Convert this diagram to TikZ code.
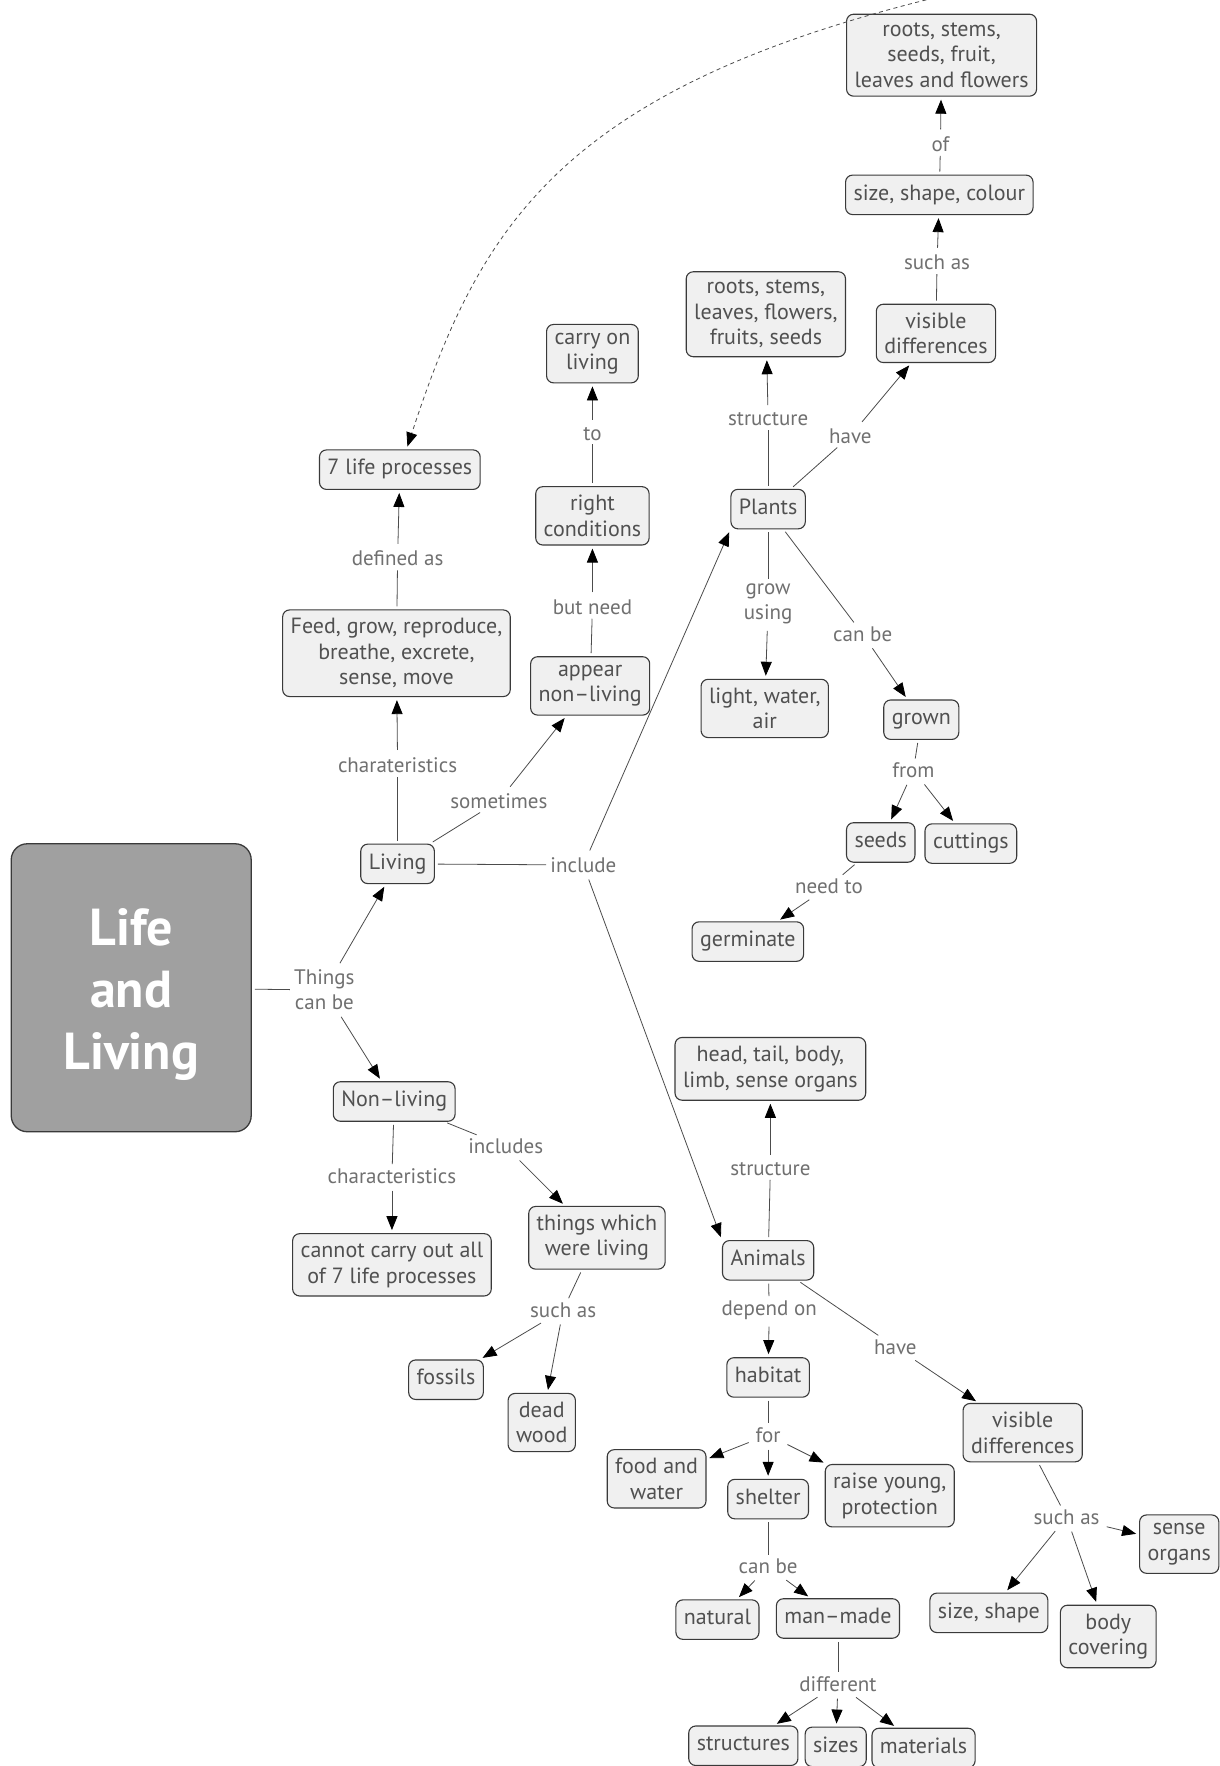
\documentclass[tikz,border=0pt]{standalone}
\usepackage{fontspec}
\setmainfont{PT Sans}
\usetikzlibrary{arrows.meta}
\definecolor{boxfill}{HTML}{F0F0F0}
\definecolor{boxline}{HTML}{3A3A3A}
\definecolor{txt}{HTML}{505050}
\definecolor{lbl}{HTML}{707070}
\definecolor{bigfill}{HTML}{A0A0A0}
\begin{document}
\begin{tikzpicture}[x=1.1265pt,y=-1.1265pt,
  concept/.style={draw=boxline, fill=boxfill, rounded corners=7pt, line width=1.1pt, text=txt,
    align=center, font=\fontsize{22}{25.5}\selectfont, inner xsep=8pt, inner ysep=8.5pt},
  one/.style={text height=16.5pt, text depth=6pt},
  bigbox/.style={draw=boxline, fill=bigfill, rounded corners=16pt, line width=1.3pt,
    minimum width=240pt, minimum height=288pt},
  bigtext/.style={text=white, align=center, font=\fontsize{52}{62}\selectfont\bfseries, inner sep=0pt},
  lab/.style={text=lbl, align=center, font=\fontsize{21}{25}\selectfont, inner sep=4pt},
  con/.style={draw=black!70, line width=0.8pt, shorten <=3pt},
  arr/.style={con, -{Triangle[length=14pt,width=11pt,fill=black,color=black]}, shorten >=3pt}]
\path[use as bounding box] (0,0) rectangle (1083,1568);
\clip (0,0) rectangle (1083,1568);
\fill[white] (0,0) rectangle (1083,1568);

% concepts
\node[bigbox] (life) at (116.5,877) {};
\node[bigtext] (lifet) at (116.5,883) {Life\\and\\Living};
\node[concept] (r1) at (836,49) {roots, stems,\\seeds, fruit,\\leaves and flowers};
\node[concept,one] (ssc) at (834,173) {size, shape, colour};
\node[concept] (pvd) at (831,296) {visible\\differences};
\node[concept] (pst) at (680,279) {roots, stems,\\leaves, flowers,\\fruits, seeds};
\node[concept] (carry) at (526,314) {carry on\\living};
\node[concept,one] (lp) at (355,417) {7 life processes};
\node[concept] (right) at (526,458) {right\\conditions};
\node[concept,one] (plants) at (682,452) {Plants};
\node[concept] (feed) at (352,580) {Feed, grow, reproduce,\\breathe, excrete,\\sense, move};
\node[concept] (appear) at (524,609) {appear\\non–living};
\node[concept] (light) at (679,629) {light, water,\\air};
\node[concept,one] (grown) at (818,639) {grown};
\node[concept,one] (living) at (353,767) {Living};
\node[concept,one] (seeds) at (782,748) {seeds};
\node[concept,one] (cuttings) at (862,749) {cuttings};
\node[concept,one] (germ) at (664,836) {germinate};
\node[concept] (head) at (684,949) {head, tail, body,\\limb, sense organs};
\node[concept,one] (nonliving) at (350,978) {Non–living};
\node[concept] (things) at (530,1099) {things which\\were living};
\node[concept] (cannot) at (348,1123) {cannot carry out all\\of 7 life processes};
\node[concept,one] (animals) at (682,1119) {Animals};
\node[concept,one] (fossils) at (396,1225) {fossils};
\node[concept] (dead) at (481,1263) {dead\\wood};
\node[concept,one] (habitat) at (682,1223) {habitat};
\node[concept] (avd) at (908,1272) {visible\\differences};
\node[concept] (food) at (583,1313) {food and\\water};
\node[concept,one] (shelter) at (682,1331) {shelter};
\node[concept] (raise) at (790,1328) {raise young,\\protection};
\node[concept] (sense) at (1047,1371) {sense\\organs};
\node[concept,one] (natural) at (637,1438) {natural};
\node[concept,one] (manmade) at (744,1437) {man–made};
\node[concept,one] (sizeshape) at (878,1432) {size, shape};
\node[concept] (body) at (984,1453) {body\\covering};
\node[concept,one] (structures) at (660,1550) {structures};
\node[concept,one] (sizes) at (742,1551) {sizes};
\node[concept,one] (materials) at (820,1552) {materials};

% linking phrases
\node[lab] (ltcb) at (288,879) {Things\\can be};
\node[lab] (linc) at (518,768) {include};
\node[lab] (lsome) at (443,711) {sometimes};
\node[lab] (lchar) at (353,679) {charateristics};
\node[lab] (ldef) at (353,496) {defined as};
\node[lab] (lbut) at (526,539) {but need};
\node[lab] (lto) at (526,385) {to};
\node[lab] (lpst) at (682,372) {structure};
\node[lab] (lphave) at (755,387) {have};
\node[lab] (lsuch1) at (832,233) {such as};
\node[lab] (lof) at (835,128) {of};
\node[lab] (lgrow) at (682,536) {grow\\using};
\node[lab] (lcanbe1) at (766,563) {can be};
\node[lab] (lfrom) at (811,684) {from};
\node[lab] (lneed) at (736,787) {need to};
\node[lab] (lincs) at (449,1018) {includes};
\node[lab] (lchar2) at (348,1044) {characteristics};
\node[lab] (lsuch2) at (500,1163) {such as};
\node[lab] (last) at (684,1038) {structure};
\node[lab] (ldep) at (683,1163) {depend on};
\node[lab] (lahave) at (795,1196) {have};
\node[lab] (lfor) at (682,1274) {for};
\node[lab] (lcanbe2) at (682,1391) {can be};
\node[lab] (ldiff) at (744,1495) {different};
\node[lab] (lsuch3) at (947,1347) {such as};

% connectors
\draw[con] (life) -- (ltcb);
\draw[arr] (ltcb) -- (living);
\draw[arr] (ltcb) -- (nonliving);
\draw[con] (living) -- (linc);
\draw[arr] (linc) -- (plants.south west);
\draw[arr] (linc) -- (animals.north west);
\draw[con] (living) -- (lsome);
\draw[arr] (lsome) -- (appear);
\draw[con] (living) -- (lchar);
\draw[arr] (lchar) -- (feed);
\draw[con] (feed) -- (ldef);
\draw[arr] (ldef) -- (lp);
\draw[con] (appear) -- (lbut);
\draw[arr] (lbut) -- (right);
\draw[con] (right) -- (lto);
\draw[arr] (lto) -- (carry);
\draw[con] (plants) -- (lpst);
\draw[arr] (lpst) -- (pst);
\draw[con] (plants) -- (lphave);
\draw[arr] (lphave) -- (pvd);
\draw[con] (pvd) -- (lsuch1);
\draw[arr] (lsuch1) -- (ssc);
\draw[con] (ssc) -- (lof);
\draw[arr] (lof) -- (r1);
\draw[con] (plants) -- (lgrow);
\draw[arr] (lgrow) -- (light);
\draw[con] (plants) -- (lcanbe1);
\draw[arr] (lcanbe1) -- (grown);
\draw[con] (grown) -- (lfrom);
\draw[arr] (lfrom) -- (seeds);
\draw[arr] (lfrom) -- (cuttings);
\draw[con] (seeds) -- (lneed);
\draw[arr] (lneed) -- (germ);
\coordinate (dstart) at (838,-4);
\draw[arr, dash pattern=on 4pt off 3.5pt] (dstart) .. controls (497,79) and (426,201) .. (lp);
\draw[con] (nonliving) -- (lchar2);
\draw[arr] (lchar2) -- (cannot);
\draw[con] (nonliving) -- (lincs);
\draw[arr] (lincs) -- (things);
\draw[con] (things) -- (lsuch2);
\draw[arr] (lsuch2) -- (fossils);
\draw[arr] (lsuch2) -- (dead);
\draw[con] (animals) -- (last);
\draw[arr] (last) -- (head);
\draw[con] (animals) -- (ldep);
\draw[arr] (ldep) -- (habitat);
\draw[con] (animals) -- (lahave);
\draw[arr] (lahave) -- (avd);
\draw[con] (habitat) -- (lfor);
\draw[arr] (lfor) -- (food);
\draw[arr] (lfor) -- (shelter);
\draw[arr] (lfor) -- (raise);
\draw[con] (shelter) -- (lcanbe2);
\draw[arr] (lcanbe2) -- (natural);
\draw[arr] (lcanbe2) -- (manmade);
\draw[con] (manmade) -- (ldiff);
\draw[arr] (ldiff) -- (structures);
\draw[arr] (ldiff) -- (sizes);
\draw[arr] (ldiff) -- (materials);
\draw[con] (avd) -- (lsuch3);
\draw[arr] (lsuch3) -- (sizeshape);
\draw[arr] (lsuch3) -- (body);
\draw[arr] (lsuch3) -- (sense);
\end{tikzpicture}
\end{document}
